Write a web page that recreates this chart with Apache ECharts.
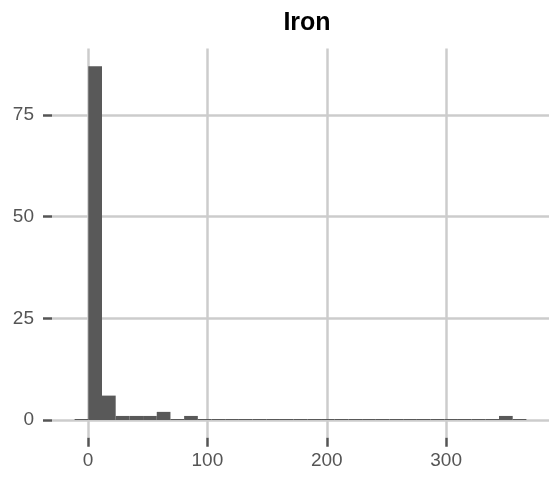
<!DOCTYPE html>
<html>
<head>
<meta charset="utf-8">
<script src="https://cdn.jsdelivr.net/npm/echarts@6/dist/echarts.min.js"></script>
<style>html,body{margin:0;padding:0;background:#fff;}#c{width:549px;height:477px;}</style>
</head>
<body>
<div id="c"></div>
<script>
// Histogram of Iron: 33 bins, first left edge and common width (data units)
const binStart = -11.25;
const binWidth = 11.47;
const counts = [0, 87, 6, 1, 1, 1, 2, 0, 1, 0, 0, 0, 0, 0, 0, 0, 0, 0, 0, 0, 0, 0, 0, 0, 0, 0, 0, 0, 0, 0, 0, 1, 0];
const xTicks = [0, 100, 200, 300];
const yTicks = [0, 25, 50, 75];
const title = 'Iron';

const bins = counts.map((c, i) => [binStart + i * binWidth, binStart + (i + 1) * binWidth, c]);

const font = 'Helvetica, Arial, "Liberation Sans", sans-serif';
const chart = echarts.init(document.getElementById('c'), null, {renderer: 'canvas'});
chart.setOption({
  animation: false,
  backgroundColor: '#ffffff',
  title: {
    text: title, left: 302, top: 6, textAlign: 'center',
    textStyle: {fontFamily: font, fontSize: 25, fontWeight: 'bold', color: '#000'}
  },
  grid: {left: 52, top: 48.5, width: 499.7, height: 389.2, containLabel: false},
  xAxis: {
    type: 'value', min: -30.2, max: 386.2,
    axisLine: {show: false, onZero: false},
    axisTick: {show: true, length: 9, lineStyle: {color: '#555555', width: 2.5}, customValues: xTicks},
    axisLabel: {customValues: xTicks, margin: 14, color: '#555555', fontFamily: font, fontSize: 19},
    splitLine: {show: true, lineStyle: {color: '#cccccc', width: 2.5}}
  },
  yAxis: {
    type: 'value', min: -4.35, max: 91.35,
    axisLine: {show: false, onZero: false},
    axisTick: {show: true, length: 9, lineStyle: {color: '#555555', width: 2.5}, customValues: yTicks},
    axisLabel: {customValues: yTicks, margin: 18, color: '#555555', fontFamily: font, fontSize: 19},
    splitLine: {show: true, lineStyle: {color: '#cccccc', width: 2.5}}
  },
  series: [{
    type: 'custom',
    data: bins,
    encode: {x: [0, 1], y: 2},
    renderItem: function (params, api) {
      const p0 = api.coord([api.value(0), api.value(2)]);
      const p1 = api.coord([api.value(1), 0]);
      const h = Math.max(p1[1] - p0[1], 1);
      return {
        type: 'rect',
        shape: {x: p0[0], y: p1[1] - h, width: p1[0] - p0[0], height: h},
        style: {fill: '#595959'}
      };
    }
  }]
});
</script>
</body>
</html>
